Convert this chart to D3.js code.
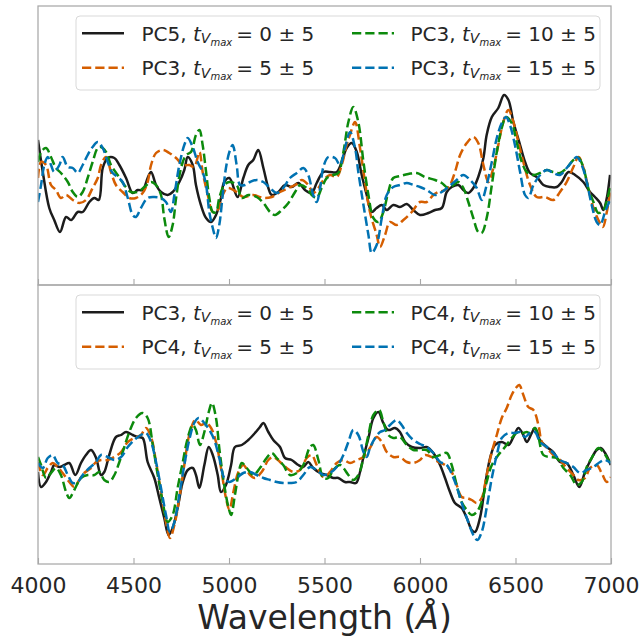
<!DOCTYPE html>
<html>
<head>
<meta charset="utf-8">
<script src="https://cdn.jsdelivr.net/npm/d3@7"></script>
<style>
  body { margin: 0; background: #fff; }
  svg { display: block; font-family: "DejaVu Sans", sans-serif; }
</style>
</head>
<body>
<svg id="chart"></svg>
<script>
// wavelength (Angstrom), relative flux
const topPC5_t0 = [[4000,0.45],[4025,0.13],[4059,-0.23],[4085,-0.35],[4115,-0.47],[4147,-0.32],[4173,-0.35],[4208,-0.27],[4234,-0.27],[4269,-0.17],[4295,-0.13],[4318,-0.15],[4339,0.17],[4365,0.27],[4400,0.27],[4426,0.20],[4461,0.07],[4496,-0.08],[4522,-0.05],[4548,-0.05],[4574,0.07],[4592,0.13],[4618,0.00],[4644,-0.07],[4679,-0.10],[4705,-0.07],[4740,0.03],[4766,0.15],[4784,0.28],[4810,0.20],[4827,0.00],[4853,-0.20],[4880,-0.33],[4906,-0.37],[4932,-0.30],[4958,-0.13],[4975,0.03],[5002,0.07],[5045,-0.12],[5075,0.07],[5101,0.20],[5127,0.25],[5153,0.35],[5180,0.17],[5206,-0.03],[5224,-0.10],[5258,-0.07],[5293,0.00],[5328,-0.02],[5363,0.02],[5398,-0.05],[5433,-0.08],[5459,0.02],[5494,0.13],[5529,0.13],[5564,0.13],[5590,0.23],[5616,0.37],[5643,0.42],[5669,0.33],[5695,0.10],[5721,-0.10],[5747,-0.27],[5773,-0.23],[5800,-0.20],[5826,-0.25],[5860,-0.20],[5895,-0.22],[5931,-0.19],[5965,-0.25],[6000,-0.30],[6044,-0.28],[6079,-0.25],[6114,-0.23],[6140,-0.07],[6166,-0.02],[6201,0.00],[6227,-0.05],[6253,-0.08],[6279,-0.03],[6305,0.08],[6332,0.27],[6349,0.50],[6376,0.68],[6410,0.77],[6440,0.90],[6463,0.85],[6489,0.63],[6524,0.40],[6550,0.23],[6576,0.12],[6611,0.08],[6646,0.00],[6681,-0.02],[6716,-0.02],[6742,0.03],[6777,0.13],[6812,0.10],[6855,0.03],[6890,-0.07],[6916,-0.12],[6943,-0.18],[6960,-0.25],[6978,-0.13],[6995,0.10]];

const topPC3_t5 = [[4000,0.07],[4016,0.23],[4042,0.20],[4068,0.00],[4094,-0.05],[4120,-0.13],[4147,-0.10],[4182,-0.15],[4216,-0.18],[4251,-0.15],[4286,-0.03],[4313,0.07],[4330,0.20],[4356,0.28],[4382,0.13],[4408,0.00],[4443,-0.07],[4478,-0.13],[4513,-0.13],[4548,-0.08],[4574,0.03],[4592,0.20],[4618,0.32],[4653,0.35],[4687,0.32],[4723,0.27],[4758,0.20],[4792,0.20],[4818,0.18],[4845,0.33],[4862,0.13],[4889,-0.10],[4915,-0.27],[4941,-0.25],[4967,-0.10],[4993,-0.03],[5040,-0.07],[5075,-0.12],[5127,-0.10],[5180,-0.13],[5224,-0.12],[5267,-0.07],[5311,-0.03],[5346,0.00],[5381,0.05],[5415,0.00],[5441,-0.08],[5468,-0.03],[5494,0.05],[5529,0.10],[5564,0.08],[5590,0.20],[5616,0.40],[5633,0.50],[5660,0.63],[5686,0.37],[5712,0.03],[5738,-0.27],[5773,-0.50],[5791,-0.62],[5817,-0.50],[5843,-0.37],[5878,-0.40],[5913,-0.35],[5957,-0.27],[6000,-0.17],[6035,-0.17],[6070,-0.10],[6096,-0.07],[6131,-0.05],[6157,0.00],[6183,0.13],[6210,0.30],[6245,0.42],[6279,0.48],[6305,0.42],[6332,0.20],[6358,0.03],[6384,0.17],[6410,0.40],[6436,0.63],[6463,0.75],[6489,0.63],[6515,0.43],[6541,0.23],[6576,0.00],[6611,-0.12],[6655,-0.12],[6698,-0.15],[6733,-0.07],[6768,0.03],[6803,0.18],[6830,0.28],[6856,0.17],[6881,-0.03],[6908,-0.23],[6934,-0.35],[6957,-0.42],[6978,-0.27],[6999,-0.03]];

const topPC3_t10 = [[4000,0.23],[4016,0.33],[4042,0.37],[4068,0.28],[4094,0.17],[4120,0.12],[4156,0.03],[4182,-0.07],[4208,-0.12],[4234,-0.07],[4260,0.07],[4286,0.23],[4313,0.37],[4330,0.38],[4356,0.33],[4382,0.20],[4417,0.10],[4452,0.00],[4487,-0.07],[4522,-0.07],[4557,-0.02],[4592,0.03],[4618,0.00],[4644,-0.10],[4661,-0.33],[4684,-0.52],[4705,-0.40],[4723,-0.13],[4749,0.17],[4775,0.30],[4801,0.33],[4827,0.50],[4845,0.55],[4862,0.40],[4880,0.13],[4897,-0.13],[4915,-0.27],[4932,-0.27],[4949,-0.13],[4975,0.00],[5002,0.03],[5040,0.00],[5067,-0.13],[5101,-0.10],[5145,-0.12],[5180,-0.18],[5215,-0.27],[5241,-0.30],[5276,-0.25],[5311,-0.18],[5346,-0.07],[5372,0.00],[5407,-0.03],[5433,-0.10],[5459,-0.13],[5485,-0.03],[5512,0.07],[5546,0.10],[5572,0.12],[5599,0.33],[5625,0.63],[5651,0.78],[5677,0.63],[5704,0.23],[5730,-0.10],[5756,-0.33],[5782,-0.37],[5808,-0.27],[5834,-0.07],[5860,0.07],[5895,0.09],[5939,0.11],[5983,0.12],[6026,0.08],[6079,0.05],[6114,0.02],[6148,-0.03],[6175,0.00],[6201,0.03],[6227,-0.03],[6253,-0.17],[6279,-0.33],[6305,-0.47],[6323,-0.48],[6349,-0.33],[6376,0.00],[6402,0.33],[6428,0.57],[6450,0.68],[6480,0.62],[6506,0.43],[6533,0.23],[6559,0.13],[6594,0.10],[6629,0.12],[6664,0.15],[6698,0.13],[6733,0.12],[6768,0.17],[6803,0.25],[6830,0.27],[6856,0.17],[6881,-0.03],[6908,-0.17],[6934,-0.28],[6960,-0.25],[6986,-0.10],[6999,0.00]];

const topPC3_t15 = [[4000,-0.17],[4016,0.00],[4033,0.20],[4051,0.28],[4068,0.20],[4085,0.13],[4112,0.20],[4129,0.28],[4156,0.18],[4182,0.17],[4208,0.12],[4234,0.20],[4260,0.30],[4286,0.38],[4313,0.43],[4339,0.37],[4365,0.23],[4391,0.12],[4417,0.08],[4443,0.03],[4470,-0.13],[4496,-0.30],[4513,-0.32],[4539,-0.23],[4574,-0.13],[4609,-0.12],[4644,-0.13],[4670,-0.17],[4696,-0.27],[4714,-0.10],[4740,0.20],[4766,0.40],[4784,0.47],[4810,0.38],[4836,0.23],[4862,0.13],[4880,0.00],[4897,-0.27],[4915,-0.43],[4932,-0.53],[4949,-0.40],[4967,-0.10],[4984,0.17],[5002,0.33],[5019,0.40],[5040,0.20],[5058,0.00],[5084,0.00],[5110,0.03],[5145,0.05],[5180,0.03],[5215,-0.03],[5250,-0.08],[5284,-0.03],[5319,0.07],[5355,0.12],[5389,0.17],[5415,0.10],[5441,-0.10],[5459,-0.17],[5477,-0.03],[5494,0.18],[5520,0.28],[5555,0.27],[5581,0.20],[5607,0.37],[5634,0.53],[5660,0.37],[5677,0.13],[5704,-0.20],[5730,-0.50],[5747,-0.68],[5773,-0.60],[5800,-0.33],[5826,-0.10],[5860,-0.02],[5895,0.00],[5931,0.02],[5965,0.00],[6000,-0.02],[6035,-0.05],[6079,-0.10],[6114,-0.07],[6148,-0.02],[6192,0.05],[6227,0.10],[6262,0.05],[6297,-0.03],[6323,-0.15],[6349,0.00],[6376,0.23],[6402,0.47],[6428,0.62],[6450,0.68],[6471,0.60],[6497,0.40],[6524,0.13],[6550,-0.10],[6567,-0.13],[6594,0.00],[6629,0.10],[6664,0.15],[6698,0.12],[6733,0.10],[6768,0.17],[6803,0.25],[6821,0.28],[6847,0.20],[6873,0.03],[6899,-0.20],[6925,-0.37],[6943,-0.40],[6969,-0.27],[6999,-0.13]];

const botPC3_t0 = [[4000,-0.02],[4016,-0.17],[4042,-0.12],[4068,-0.02],[4085,0.05],[4112,0.03],[4138,0.05],[4164,0.07],[4195,-0.05],[4225,0.07],[4251,0.15],[4278,0.20],[4304,0.12],[4330,-0.05],[4347,-0.02],[4373,0.15],[4408,0.33],[4435,0.35],[4461,0.38],[4496,0.35],[4522,0.33],[4548,0.32],[4574,0.08],[4609,-0.08],[4635,-0.28],[4661,-0.48],[4684,-0.65],[4705,-0.58],[4731,-0.38],[4758,-0.12],[4784,0.00],[4810,0.02],[4827,-0.05],[4845,-0.18],[4871,0.05],[4894,0.23],[4915,0.15],[4941,-0.05],[4958,-0.22],[4984,-0.15],[5011,0.05],[5031,0.23],[5067,0.25],[5101,0.30],[5136,0.37],[5162,0.43],[5180,0.47],[5206,0.38],[5232,0.30],[5267,0.23],[5293,0.12],[5328,0.10],[5363,0.05],[5389,0.03],[5415,0.08],[5441,0.02],[5477,-0.03],[5512,-0.05],[5546,-0.08],[5572,-0.08],[5607,-0.12],[5634,-0.12],[5665,-0.13],[5686,-0.02],[5704,0.13],[5730,0.32],[5756,0.52],[5782,0.58],[5808,0.47],[5834,0.40],[5869,0.42],[5895,0.38],[5922,0.28],[5957,0.23],[6000,0.22],[6035,0.23],[6070,0.17],[6105,0.05],[6131,-0.08],[6157,-0.22],[6183,-0.33],[6218,-0.38],[6245,-0.48],[6271,-0.60],[6288,-0.62],[6314,-0.48],[6341,-0.15],[6367,0.12],[6393,0.25],[6428,0.28],[6463,0.25],[6489,0.33],[6515,0.42],[6541,0.35],[6559,0.28],[6585,0.37],[6602,0.42],[6628,0.30],[6664,0.23],[6698,0.18],[6733,0.08],[6768,0.07],[6803,-0.05],[6834,-0.17],[6864,-0.02],[6899,0.12],[6925,0.20],[6946,0.22],[6969,0.17],[6999,0.05]];

const botPC4_t5 = [[4000,0.08],[4025,-0.05],[4051,0.02],[4077,0.07],[4103,0.03],[4129,-0.03],[4164,-0.12],[4190,-0.17],[4216,-0.10],[4242,-0.03],[4278,0.02],[4304,0.08],[4330,0.10],[4365,0.10],[4400,0.13],[4435,0.18],[4470,0.28],[4504,0.32],[4539,0.35],[4565,0.42],[4592,0.33],[4618,0.08],[4644,-0.22],[4670,-0.52],[4691,-0.68],[4714,-0.55],[4740,-0.28],[4766,0.05],[4792,0.35],[4824,0.50],[4853,0.45],[4880,0.47],[4906,0.42],[4932,0.28],[4958,0.02],[4984,-0.28],[5002,-0.40],[5023,-0.22],[5049,-0.02],[5075,0.05],[5110,-0.05],[5136,-0.08],[5171,-0.02],[5206,0.10],[5232,0.13],[5267,0.08],[5302,0.02],[5337,-0.02],[5372,0.00],[5407,0.12],[5433,0.15],[5459,0.05],[5494,-0.07],[5529,-0.02],[5564,0.07],[5599,0.10],[5634,0.07],[5669,0.10],[5704,0.13],[5738,0.22],[5773,0.33],[5800,0.28],[5826,0.18],[5860,0.13],[5895,0.13],[5931,0.08],[5965,0.07],[6000,0.10],[6026,0.15],[6061,0.13],[6096,0.08],[6131,0.05],[6166,-0.02],[6192,-0.15],[6218,-0.27],[6245,-0.28],[6271,-0.30],[6297,-0.33],[6323,-0.28],[6349,-0.05],[6376,0.18],[6402,0.35],[6428,0.52],[6454,0.62],[6480,0.75],[6506,0.83],[6520,0.85],[6541,0.75],[6567,0.63],[6594,0.60],[6620,0.45],[6638,0.28],[6664,0.22],[6698,0.15],[6733,0.10],[6768,0.02],[6803,-0.05],[6830,-0.10],[6864,-0.08],[6890,0.02],[6925,0.05],[6951,-0.03],[6978,-0.12],[6999,-0.07]];

const botPC4_t10 = [[4000,0.13],[4016,0.05],[4042,-0.08],[4068,-0.03],[4094,0.02],[4120,-0.05],[4147,-0.22],[4164,-0.28],[4190,-0.20],[4225,-0.08],[4260,-0.05],[4295,-0.05],[4321,-0.02],[4347,-0.10],[4373,-0.12],[4400,-0.05],[4426,0.08],[4452,0.23],[4478,0.38],[4513,0.52],[4548,0.57],[4574,0.52],[4601,0.25],[4627,-0.05],[4653,-0.32],[4679,-0.52],[4705,-0.45],[4731,-0.18],[4758,0.08],[4784,0.32],[4810,0.45],[4827,0.40],[4848,0.25],[4871,0.38],[4894,0.58],[4911,0.67],[4932,0.52],[4949,0.22],[4975,-0.15],[4998,-0.38],[5011,-0.45],[5031,-0.25],[5049,-0.05],[5067,0.07],[5093,0.02],[5127,-0.05],[5162,0.02],[5197,0.12],[5224,0.17],[5250,0.12],[5284,0.05],[5319,-0.05],[5355,-0.03],[5389,0.05],[5424,0.23],[5441,0.25],[5468,0.10],[5494,-0.08],[5520,-0.08],[5546,0.00],[5581,0.05],[5599,0.02],[5625,-0.05],[5651,-0.10],[5677,-0.05],[5704,0.12],[5730,0.35],[5756,0.55],[5786,0.60],[5808,0.48],[5834,0.35],[5860,0.32],[5895,0.33],[5931,0.25],[5965,0.20],[6000,0.20],[6035,0.20],[6070,0.13],[6105,0.15],[6140,0.17],[6166,0.05],[6192,-0.15],[6218,-0.32],[6245,-0.40],[6271,-0.45],[6297,-0.42],[6323,-0.32],[6349,-0.12],[6376,0.05],[6410,0.15],[6445,0.23],[6480,0.32],[6515,0.38],[6541,0.37],[6559,0.38],[6576,0.37],[6602,0.42],[6620,0.33],[6646,0.15],[6681,0.13],[6716,0.12],[6751,0.02],[6786,-0.05],[6821,-0.15],[6847,-0.12],[6873,0.03],[6899,0.12],[6934,0.22],[6960,0.18],[6986,0.10],[6999,0.07]];

const botPC4_t15 = [[4000,0.07],[4025,0.02],[4051,0.12],[4077,0.15],[4103,0.07],[4129,0.05],[4156,-0.05],[4182,-0.13],[4208,-0.12],[4234,-0.05],[4269,0.02],[4304,0.08],[4330,0.15],[4365,0.13],[4400,0.10],[4435,0.13],[4470,0.23],[4504,0.30],[4539,0.35],[4565,0.37],[4592,0.28],[4618,0.08],[4644,-0.18],[4670,-0.45],[4691,-0.62],[4714,-0.52],[4740,-0.25],[4766,0.05],[4792,0.30],[4818,0.47],[4841,0.52],[4871,0.47],[4897,0.40],[4923,0.30],[4949,0.12],[4975,-0.08],[5002,-0.12],[5040,-0.08],[5075,-0.03],[5110,-0.02],[5145,-0.05],[5180,-0.08],[5215,-0.10],[5250,-0.12],[5284,-0.13],[5319,-0.13],[5355,-0.12],[5389,-0.05],[5424,0.03],[5459,0.00],[5494,-0.05],[5529,-0.03],[5564,0.03],[5599,0.15],[5625,0.28],[5651,0.40],[5677,0.35],[5704,0.18],[5721,0.13],[5738,0.22],[5765,0.32],[5791,0.38],[5817,0.40],[5843,0.45],[5878,0.50],[5904,0.45],[5931,0.37],[5965,0.30],[6000,0.26],[6035,0.23],[6070,0.17],[6105,0.08],[6140,0.05],[6175,-0.08],[6201,-0.22],[6227,-0.38],[6253,-0.52],[6279,-0.65],[6300,-0.70],[6323,-0.62],[6349,-0.38],[6376,-0.08],[6402,0.15],[6428,0.32],[6463,0.37],[6498,0.37],[6524,0.38],[6550,0.33],[6576,0.37],[6602,0.38],[6629,0.28],[6664,0.23],[6698,0.17],[6733,0.10],[6768,0.07],[6803,0.03],[6838,-0.03],[6873,0.00],[6908,0.03],[6943,0.08],[6969,0.10],[6999,0.07]];

const topComponents = ["PC5", "PC3", "PC3", "PC3"];
const bottomComponents = ["PC3", "PC4", "PC4", "PC4"];
const epochs = ["0", "5", "10", "15"];
const epochError = "5";
const xTicks = [4000, 4500, 5000, 5500, 6000, 6500, 7000];
const topYRange = [-1.0, 1.79];
const bottomYRange = [-0.94, 1.85];

const seriesColors = ["#1c1c1c", "#d55e00", "#0c8a0c", "#0072b2"];
const seriesDashed = [false, true, true, true];

const width = 644;
const height = 636;
const left = 38, right = 611;

const svg = d3.select("#chart")
  .attr("width", width)
  .attr("height", height);

const x = d3.scaleLinear().domain([4000, 7000]).range([left, right]);

const panels = [
  { top: 6, bottom: 285, yRange: topYRange, series: [topPC5_t0, topPC3_t5, topPC3_t10, topPC3_t15], comps: topComponents },
  { top: 285, bottom: 564, yRange: bottomYRange, series: [botPC3_t0, botPC4_t5, botPC4_t10, botPC4_t15], comps: bottomComponents }
];

panels.forEach((p, pi) => {
  const y = d3.scaleLinear().domain(p.yRange).range([p.bottom, p.top]);
  const g = svg.append("g");

  g.append("clipPath")
    .attr("id", "clip" + pi)
    .append("rect")
    .attr("x", left).attr("y", p.top)
    .attr("width", right - left).attr("height", p.bottom - p.top);

  const line = d3.line()
    .x(d => x(d[0]))
    .y(d => y(d[1]))
    .curve(d3.curveCatmullRom.alpha(0.5));

  // spectra
  g.append("g")
    .attr("clip-path", `url(#clip${pi})`)
    .selectAll("path")
    .data(p.series)
    .enter()
    .append("path")
    .attr("d", line)
    .attr("fill", "none")
    .attr("stroke", (d, i) => seriesColors[i])
    .attr("stroke-width", 2.5)
    .attr("stroke-dasharray", (d, i) => seriesDashed[i] ? "9.25,4" : null);

  // frame
  g.append("rect")
    .attr("x", left).attr("y", p.top)
    .attr("width", right - left).attr("height", p.bottom - p.top)
    .attr("fill", "none")
    .attr("stroke", "#a8a8a8")
    .attr("stroke-width", 1.25);

  // inward ticks on bottom spine
  const axis = d3.axisBottom(x).tickValues(xTicks).tickSizeInner(-6).tickSizeOuter(0);
  const ax = g.append("g")
    .attr("transform", `translate(0,${p.bottom})`)
    .call(axis);
  ax.select(".domain").remove();
  ax.selectAll(".tick line").attr("stroke", "#a8a8a8").attr("stroke-width", 1.1);
  if (pi === 1) {
    ax.selectAll(".tick text")
      .attr("y", 0)
      .attr("dy", 29)
      .attr("fill", "#262626")
      .style("font-size", "22px")
      .style("font-family", "DejaVu Sans, sans-serif")
      .text(d => d);
  } else {
    ax.selectAll(".tick text").remove();
  }

  // legend
  const lg = g.append("g").attr("transform", `translate(0,${p.top})`);
  lg.append("rect")
    .attr("x", 76).attr("y", 10)
    .attr("width", 524).attr("height", 74)
    .attr("rx", 4)
    .attr("fill", "rgba(255,255,255,0.8)")
    .attr("stroke", "#d9d9d9")
    .attr("stroke-width", 1);

  epochs.forEach((ep, i) => {
    const col = Math.floor(i / 2), row = i % 2;
    const hx = col === 0 ? 82 : 352;
    const tx = col === 0 ? 141.5 : 410.5;
    const ly = 27.3 + row * 34.4;
    lg.append("line")
      .attr("x1", hx).attr("x2", hx + 42)
      .attr("y1", ly).attr("y2", ly)
      .attr("stroke", seriesColors[i])
      .attr("stroke-width", 2.5)
      .attr("stroke-dasharray", seriesDashed[i] ? "9.25,4" : null);
    const t = lg.append("text")
      .attr("x", tx).attr("y", ly + 7.3)
      .attr("fill", "#262626")
      .style("font-size", "20px");
    t.append("tspan").text(p.comps[i] + ", ");
    t.append("tspan").style("font-style", "italic").text("t");
    t.append("tspan").style("font-style", "italic").style("font-size", "14px").attr("dy", 2.8).text("V");
    t.append("tspan").style("font-style", "italic").style("font-size", "10px").attr("dy", 2.6).text("max");
    t.append("tspan").attr("dy", -5.4).text("\u2009= " + ep + " \u00b1 " + epochError);
  });
});

// x label
const xl = svg.append("text")
  .attr("x", (left + right) / 2)
  .attr("y", 629)
  .attr("text-anchor", "middle")
  .attr("fill", "#262626")
  .style("font-size", "33px");
xl.append("tspan").text("Wavelength (");
xl.append("tspan").style("font-style", "italic").text("\u00c5");
xl.append("tspan").text(")");
</script>
</body>
</html>
